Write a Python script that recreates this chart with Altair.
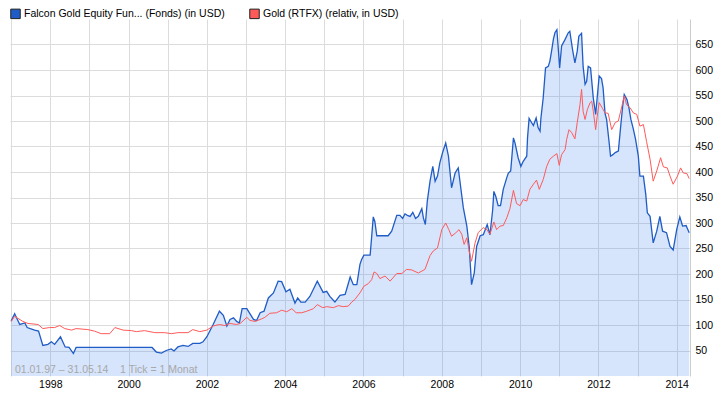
import altair as alt
import pandas as pd

# ---- data (decimal years, index values) ----
falcon_years = [
    1997.00, 1997.09, 1997.22, 1997.35, 1997.41, 1997.60, 1997.70, 1997.81, 1997.94,
    1998.03, 1998.11, 1998.26, 1998.38, 1998.48, 1998.59, 1998.66,
    2000.60, 2000.71, 2000.84, 2000.96,
    2001.09, 2001.16, 2001.26, 2001.39, 2001.52, 2001.64, 2001.82, 2001.90,
    2002.00, 2002.16, 2002.32, 2002.42, 2002.51, 2002.59, 2002.68, 2002.76, 2002.83, 2002.90,
    2003.02, 2003.19, 2003.27, 2003.36, 2003.46, 2003.57, 2003.70, 2003.82, 2003.91,
    2004.02, 2004.12, 2004.25, 2004.32, 2004.40, 2004.51, 2004.63, 2004.82, 2004.97,
    2005.06, 2005.14, 2005.27, 2005.40, 2005.53, 2005.57, 2005.66, 2005.74, 2005.83, 2005.87, 2005.91, 2005.95,
    2006.01, 2006.17, 2006.21, 2006.25, 2006.29, 2006.34, 2006.63, 2006.72, 2006.85, 2006.93,
    2007.00, 2007.06, 2007.12, 2007.19, 2007.26, 2007.33, 2007.40, 2007.49, 2007.53, 2007.58, 2007.63, 2007.70, 2007.77, 2007.83, 2007.89, 2007.95,
    2008.02, 2008.10, 2008.17, 2008.25, 2008.34, 2008.42, 2008.48, 2008.55, 2008.64, 2008.70, 2008.76, 2008.83, 2008.89, 2008.98,
    2009.06, 2009.16, 2009.23, 2009.30, 2009.33, 2009.38, 2009.44, 2009.50, 2009.57, 2009.66, 2009.70, 2009.76, 2009.83, 2009.87, 2009.95,
    2010.02, 2010.08, 2010.17, 2010.19, 2010.23, 2010.30, 2010.34, 2010.41, 2010.46, 2010.51, 2010.53, 2010.59, 2010.65, 2010.72, 2010.76, 2010.81, 2010.85, 2010.89, 2010.94, 2010.98,
    2011.01, 2011.06, 2011.15, 2011.23, 2011.27, 2011.34, 2011.40, 2011.46, 2011.50, 2011.57, 2011.61, 2011.66, 2011.70, 2011.74, 2011.80, 2011.87, 2011.93, 2011.98,
    2012.02, 2012.08, 2012.12, 2012.17, 2012.21, 2012.28, 2012.31, 2012.37, 2012.43, 2012.51, 2012.57, 2012.62, 2012.66, 2012.73, 2012.78, 2012.83, 2012.89, 2012.95,
    2013.02, 2013.06, 2013.15, 2013.21, 2013.25, 2013.32, 2013.36, 2013.40, 2013.49, 2013.57, 2013.64, 2013.74, 2013.83, 2013.91,
    2014.00, 2014.08, 2014.15, 2014.24, 2014.32,
]
falcon_values = [
    108, 122, 101, 104, 95, 90, 88, 60, 62,
    67, 62, 77, 57, 56, 44, 56,
    56, 47, 45, 50,
    53, 49, 57, 60, 58, 64, 64, 67,
    77, 101, 127, 119, 98, 111, 114, 107, 104, 132,
    132, 111, 109, 124, 127, 153, 163, 186, 185,
    165, 170, 143, 153, 145, 145, 156, 186, 164,
    166, 156, 145, 158, 160, 170, 194, 179, 179, 199, 219, 228,
    237, 237, 274, 312, 303, 275, 275, 284, 315, 315,
    309, 318, 315, 313, 321, 309, 313, 328, 310, 297, 343, 382, 411, 382, 392, 418,
    438, 457, 431, 369, 398, 408, 372, 330, 294, 254, 179, 202, 254, 275,
    277, 297, 277, 326, 362, 352, 334, 334, 366, 389, 398, 402, 467, 457, 428,
    411, 421, 431, 467, 505, 496, 491, 506, 487, 480, 504, 545, 604, 607, 617, 640, 660, 673, 679, 637,
    604, 647, 660, 673, 676, 640, 614, 637, 666, 672, 607, 572, 578, 607, 604, 545, 513, 555,
    588, 583, 565, 515, 503, 454, 431, 434, 438, 441, 490, 529, 552, 542, 526, 503, 485, 464,
    431, 392, 392, 356, 320, 313, 287, 261, 284, 313, 284, 281, 254, 247,
    287, 312, 294, 295, 281,
]

gold_years = [
    1997.00, 1997.09, 1997.30, 1997.43, 1997.69, 1997.81, 1997.98,
    1998.11, 1998.24, 1998.37, 1998.54, 1998.66, 1998.96,
    1999.13, 1999.30, 1999.52, 1999.65, 1999.86,
    2000.07, 2000.20, 2000.41, 2000.67, 2000.92,
    2001.09, 2001.26, 2001.52, 2001.64, 2001.82,
    2002.00, 2002.16, 2002.32, 2002.46, 2002.59, 2002.76, 2002.85,
    2003.02, 2003.10, 2003.23, 2003.40, 2003.48, 2003.61, 2003.78, 2003.91,
    2004.04, 2004.17, 2004.28, 2004.42, 2004.55, 2004.72, 2004.82, 2004.96,
    2005.06, 2005.23, 2005.36, 2005.48, 2005.61, 2005.70, 2005.78, 2005.91,
    2006.01, 2006.12, 2006.21, 2006.27, 2006.34, 2006.42, 2006.55, 2006.68, 2006.85, 2006.98,
    2007.10, 2007.23, 2007.40, 2007.57, 2007.70, 2007.78, 2007.89,
    2008.00, 2008.10, 2008.18, 2008.25, 2008.36, 2008.44, 2008.51, 2008.57, 2008.64, 2008.70, 2008.76, 2008.85, 2008.93,
    2009.06, 2009.15, 2009.23, 2009.33, 2009.40, 2009.49, 2009.57, 2009.66, 2009.74, 2009.83, 2009.91,
    2010.00, 2010.08, 2010.17, 2010.25, 2010.34, 2010.42, 2010.49, 2010.59, 2010.68, 2010.76, 2010.85, 2010.94,
    2011.00, 2011.06, 2011.15, 2011.19, 2011.25, 2011.32, 2011.40, 2011.46, 2011.53, 2011.57, 2011.61, 2011.66, 2011.72, 2011.79, 2011.83, 2011.87, 2011.93, 2011.97,
    2012.02, 2012.11, 2012.17, 2012.25, 2012.34, 2012.43, 2012.51, 2012.60, 2012.66, 2012.72, 2012.81, 2012.89, 2012.98,
    2013.06, 2013.15, 2013.23, 2013.32, 2013.40, 2013.49, 2013.59, 2013.66, 2013.76, 2013.83, 2013.91,
    2014.02, 2014.10, 2014.17, 2014.26, 2014.32,
]
gold_values = [
    107, 117, 107, 103, 101, 93, 95,
    95, 99, 93, 90, 93, 91,
    88, 83, 83, 95, 90,
    89, 87, 89, 85, 85,
    83, 85, 85, 91, 87,
    90, 98, 101, 99, 103, 101, 103,
    115, 109, 107, 112, 115, 123, 124, 129,
    126, 132, 124, 124, 127, 132, 140, 134,
    136, 134, 138, 136, 137, 145, 150, 163,
    176, 181, 189, 204, 201, 191, 196, 186, 201, 201,
    209, 208, 202, 209, 236, 245, 251,
    287, 300, 287, 274, 281, 287, 278, 258, 271, 245, 225, 261, 281,
    291, 287, 278, 302, 287, 294, 295, 310, 328, 364, 338,
    334, 346, 343, 366, 376, 384, 366, 385, 411, 425, 431, 436,
    413, 434, 444, 464, 483, 477, 465, 497, 532, 562, 519, 503, 523, 536, 539, 519, 483, 509,
    536, 524, 516, 515, 483, 497, 500, 529, 549, 532, 526, 516, 513,
    490, 493, 460, 425, 382, 402, 428, 410, 408, 392, 376,
    392, 408, 398, 397, 387,
]

series_names = ["Falcon Gold Equity Fun... (Fonds) (in USD)", "Gold (RTFX) (relativ, in USD)"]
series_colors = ["#1f5cc6", "#ff5a5a"]
y_tick_values = [50, 100, 150, 200, 250, 300, 350, 400, 450, 500, 550, 600, 650]
x_grid_years = list(range(1997, 2015))
note_text = "01.01.97 \u2013 31.05.14\u00a0\u00a0\u00a0 1 Tick = 1 Monat"

FONT = "Liberation Sans"

falcon = pd.DataFrame({"year": falcon_years, "value": falcon_values, "series": series_names[0]})
gold = pd.DataFrame({"year": gold_years, "value": gold_values, "series": series_names[1]})
both = pd.concat([falcon, gold], ignore_index=True)

x_scale = alt.Scale(domain=[1996.971, 2014.34], nice=False, zero=False)
y_scale = alt.Scale(domain=[0, 700], nice=False, zero=True)

x_axis = alt.Axis(
    values=x_grid_years,
    labelExpr="datum.value % 2 === 0 ? '' + datum.value : ''",
    title=None,
    grid=True,
    gridColor="#dcdcdc",
    gridWidth=1,
    domain=False,
    ticks=False,
    labelPadding=3,
    labelFont=FONT,
    labelFontSize=10.5,
    labelColor="#000000",
    labelOverlap=False,
    labelFlush=False,
    labelBaseline="top",
)
y_axis = alt.Axis(
    orient="right",
    values=y_tick_values,
    title=None,
    grid=True,
    gridColor="#dcdcdc",
    gridWidth=1,
    domain=True,
    domainColor="#cccccc",
    ticks=False,
    labelPadding=5,
    labelAlign="left",
    labelFont=FONT,
    labelFontSize=10.5,
    labelColor="#000000",
    labelOverlap=False,
)


def xy():
    return dict(
        x=alt.X("year:Q", scale=x_scale, axis=x_axis),
        y=alt.Y("value:Q", scale=y_scale, axis=y_axis),
    )


area = alt.Chart(falcon).mark_area(color="#3278f0", opacity=0.2).encode(**xy())

falcon_line = alt.Chart(falcon).mark_line(color=series_colors[0], strokeWidth=1.3).encode(**xy())
gold_line = alt.Chart(gold).mark_line(color=series_colors[1], strokeWidth=1).encode(**xy())

legend_pts = alt.Chart(both).mark_point(shape="square", filled=True, opacity=0).encode(
    **xy(),
    fill=alt.Fill(
        "series:N",
        scale=alt.Scale(domain=series_names, range=series_colors),
        legend=alt.Legend(
            title=None,
            orient="none",
            legendX=0,
            legendY=-11,
            direction="horizontal",
            symbolType="square",
            symbolSize=90,
            symbolOpacity=1,
            symbolStrokeColor="#222222",
            symbolStrokeWidth=1,
            labelFont=FONT,
            labelFontSize=10.5,
            labelColor="#000000",
            labelOffset=3,
            labelLimit=0,
            columnPadding=22,
            padding=0,
        ),
    ),
)

note = alt.Chart(pd.DataFrame({"t": [note_text]})).mark_text(
    align="left", baseline="alphabetic", color="#a8a8a8", font=FONT, fontSize=10.5
).encode(text="t:N", x=alt.value(5), y=alt.value(354))

chart = (
    alt.layer(area, falcon_line, gold_line, legend_pts, note)
    .properties(
        width=680,
        height=357,
        autosize=alt.AutoSizeParams(type="none"),
        padding={"left": 2, "top": 11, "right": 24, "bottom": 16},
        background="#ffffff",
    )
    .configure_view(stroke=None)
)

chart.save("out.html", embed_options={"renderer": "svg", "actions": False})
